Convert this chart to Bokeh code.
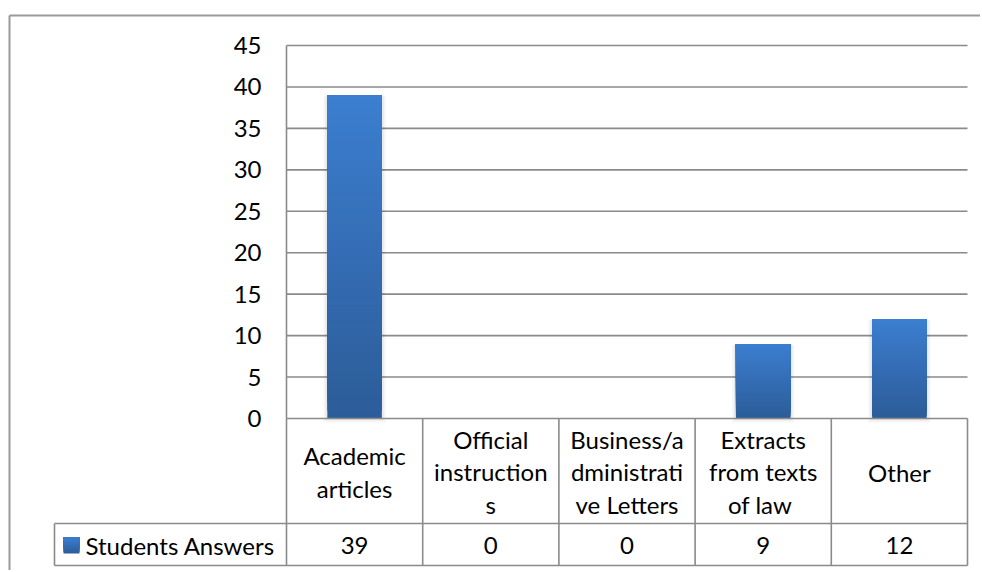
import numpy as np
from bokeh.plotting import figure
from bokeh.models import Range1d
from bokeh.core.properties import value
from bokeh.embed import file_html
from bokeh.resources import INLINE

# ---------------- data ----------------
categories = ["Academic articles", "Official instructions",
              "Business/administrative Letters", "Extracts from texts of  law", "Other"]
header_labels = ["Academic\narticles", "Official\ninstruction\ns",
                 "Business/a\ndministrati\nve Letters", "Extracts\nfrom texts\nof  law", "Other"]
series_name = "Students Answers"
answers = [39, 0, 0, 9, 12]
y_ticks = [0, 5, 10, 15, 20, 25, 30, 35, 40, 45]
y_tick_labels = ["0", "5", "10", "15", "20", "25", "30", "35", "40", "45"]

# ---------------- layout (canvas pixels) ----------------
W, H = 980, 570
PL, PR, PT, PB = 286, 967, 45, 418          # plot area
n = len(categories)
ymax = y_ticks[-1]
sx = (PR - PL) / n
sy = (PB - PT) / ymax

def X(px):
    return (px - PL) / sx

def Y(px):
    return (PB - px) / sy

FONT = value("Lato")
FS = "24px"
GRID = "#8a8a8a"
TEXT = "#000000"
TOP_C = np.array([0x3c, 0x7e, 0xd0])
BOT_C = np.array([0x2c, 0x5c, 0x98])

p = figure(width=W, height=H,
           x_range=Range1d(X(0), X(W)), y_range=Range1d(Y(H), Y(0)),
           x_axis_type=None, y_axis_type=None,
           toolbar_location=None, output_backend="svg",
           min_border=0, outline_line_color=None,
           background_fill_color="white", border_fill_color="white")

# outer chart border (left and top visible)
p.segment(x0=[X(9), X(9)], y0=[Y(15), Y(15)], x1=[X(W + 20), X(9)], y1=[Y(15), Y(H + 20)],
          line_color="#9a9a9a", line_width=2)

# horizontal gridlines from ticks
gt = [t for t in y_ticks if t > 0]
p.segment(x0=[0] * len(gt), x1=[n] * len(gt), y0=gt, y1=gt, line_color=GRID, line_width=1.6)
# value axis line
p.segment(x0=[0], x1=[0], y0=[0], y1=[ymax], line_color=GRID, line_width=1.6)

# y tick labels
p.text(x=[X(PL - 25)] * len(y_ticks), y=y_ticks, text=y_tick_labels,
       text_font=FONT, text_font_size=FS, text_color=TEXT,
       text_align="right", text_baseline="middle")

# bar shadows
xs = [i + 0.5 for i in range(n)]
bw = 0.4
for k, a in [(4, 0.035), (2, 0.05)]:
    p.vbar(x=xs, width=bw + 2 * k / sx, bottom=[-k / sy] * n,
           top=[v - k / sy * 0.3 if v > 0 else 0 for v in answers],
           fill_color="black", fill_alpha=[a if v > 0 else 0 for v in answers], line_color=None)

# gradient bars: overlapping layers, each from its level up to the bar's value
N = 40
bx, bb, bt, bc = [], [], [], []
for xi, v in zip(xs, answers):
    if v <= 0:
        continue
    for k in range(N):
        f = (k + 0.5) / N
        c = BOT_C + (TOP_C - BOT_C) * f
        bx.append(xi)
        bb.append(v * k / N)
        bt.append(v)
        bc.append("#%02x%02x%02x" % tuple(int(round(t)) for t in c))
# order so that layers are drawn darkest (lowest) first
order = sorted(range(len(bb)), key=lambda i: bb[i] / max(bt[i], 1e-9))
p.vbar(x=[bx[i] for i in order], width=bw, bottom=[bb[i] for i in order],
       top=[bt[i] for i in order], fill_color=[bc[i] for i in order], line_color=None)

# ---------------- data table ----------------
HB = 523     # header row bottom
DB = 565     # data row bottom
LL = 54      # legend cell left
p.segment(x0=list(range(n + 1)), x1=list(range(n + 1)),
          y0=[0] * (n + 1), y1=[Y(DB)] * (n + 1), line_color=GRID, line_width=1.6)
p.segment(x0=[X(LL)], x1=[X(LL)], y0=[Y(HB)], y1=[Y(DB)], line_color=GRID, line_width=1.6)
p.segment(x0=[0, X(LL), X(LL)], x1=[n, n, n], y0=[0, Y(HB), Y(DB)], y1=[0, Y(HB), Y(DB)],
          line_color=GRID, line_width=1.6)

# header labels
p.text(x=xs, y=[Y((PB + HB) / 2 + 1)] * n, text=header_labels,
       text_font=FONT, text_font_size=FS, text_color=TEXT,
       text_align="center", text_baseline="middle", text_line_height=1.13)
# values row
p.text(x=xs, y=[Y((HB + DB) / 2 + 1)] * n, text=[str(v) for v in answers],
       text_font=FONT, text_font_size=FS, text_color=TEXT,
       text_align="center", text_baseline="middle")

# legend key (gradient square)
K0, K1 = 537, 553
kb, kt, kc = [], [], []
M = 10
for k in range(M):
    f = (k + 0.5) / M
    c = BOT_C + (TOP_C - BOT_C) * f
    kb.append(Y(K1 - (K1 - K0) * k / M))
    kt.append(Y(K0))
    kc.append("#%02x%02x%02x" % tuple(int(round(t)) for t in c))
p.quad(left=[X(63)] * M, right=[X(79)] * M, bottom=kb, top=kt, fill_color=kc, line_color=None)
p.text(x=[X(85)], y=[Y((HB + DB) / 2 + 1)], text=[series_name],
       text_font=FONT, text_font_size=FS, text_color=TEXT,
       text_align="left", text_baseline="middle")

open("out.html", "w").write(file_html(p, INLINE))
